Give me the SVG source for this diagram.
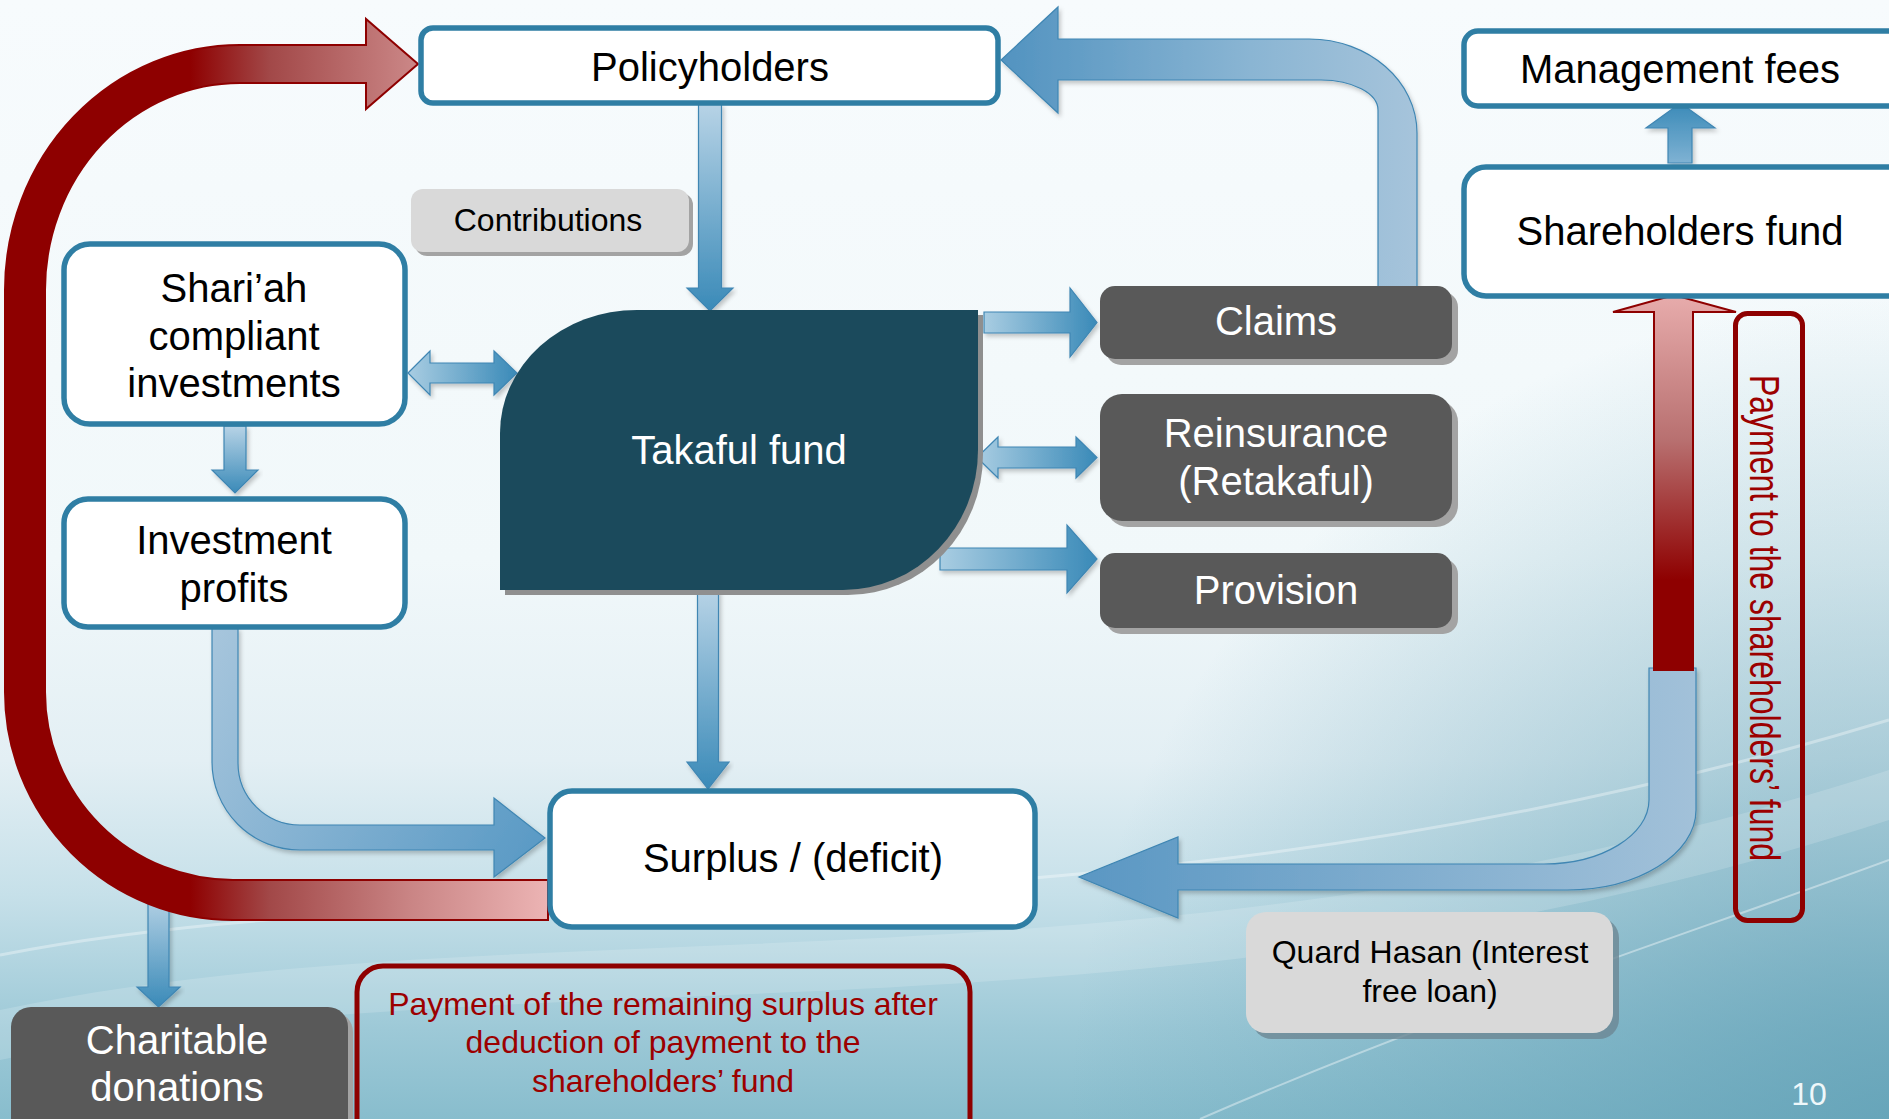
<svg xmlns="http://www.w3.org/2000/svg" width="1889" height="1119" viewBox="0 0 1889 1119">
  <defs>
    <linearGradient id="bg" x1="0" y1="0" x2="0" y2="1">
      <stop offset="0" stop-color="#f7fbfd"/>
      <stop offset="0.5" stop-color="#f1f8fa"/>
      <stop offset="0.68" stop-color="#e3eff4"/>
      <stop offset="0.8" stop-color="#c6e0e9"/>
      <stop offset="0.92" stop-color="#9dc9d7"/>
      <stop offset="1" stop-color="#88bdcd"/>
    </linearGradient>
    <radialGradient id="bgCorner" cx="1889" cy="1119" r="820" gradientUnits="userSpaceOnUse">
      <stop offset="0" stop-color="#5c9db3" stop-opacity="0.75"/>
      <stop offset="1" stop-color="#5c9db3" stop-opacity="0"/>
    </radialGradient>
    <linearGradient id="gDown" x1="0" y1="0" x2="0" y2="1">
      <stop offset="0" stop-color="#b7d3e6"/>
      <stop offset="1" stop-color="#3a8ab8"/>
    </linearGradient>
    <linearGradient id="gUp" x1="0" y1="1" x2="0" y2="0">
      <stop offset="0" stop-color="#7fb2d3"/>
      <stop offset="1" stop-color="#3a8ab8"/>
    </linearGradient>
    <linearGradient id="gRight" x1="0" y1="0" x2="1" y2="0">
      <stop offset="0" stop-color="#a9cde2"/>
      <stop offset="1" stop-color="#3a8ab8"/>
    </linearGradient>
    <linearGradient id="gBack" gradientUnits="userSpaceOnUse" x1="1001" y1="0" x2="1417" y2="0">
      <stop offset="0" stop-color="#5293c0"/>
      <stop offset="0.6" stop-color="#8ab5d3"/>
      <stop offset="1" stop-color="#a6c4db"/>
    </linearGradient>
    <linearGradient id="gInv" gradientUnits="userSpaceOnUse" x1="212" y1="640" x2="545" y2="838">
      <stop offset="0" stop-color="#a6c5dc"/>
      <stop offset="1" stop-color="#5a9ac5"/>
    </linearGradient>
    <linearGradient id="gLoan" gradientUnits="userSpaceOnUse" x1="1079" y1="0" x2="1696" y2="0">
      <stop offset="0" stop-color="#5a97c3"/>
      <stop offset="1" stop-color="#a2c1d9"/>
    </linearGradient>
    <linearGradient id="gRed" gradientUnits="userSpaceOnUse" x1="150" y1="0" x2="548" y2="0">
      <stop offset="0" stop-color="#8e0000"/>
      <stop offset="0.1" stop-color="#8e0000"/>
      <stop offset="0.3" stop-color="#a24848"/>
      <stop offset="0.65" stop-color="#c98484"/>
      <stop offset="1" stop-color="#ecb4b4"/>
    </linearGradient>
    <linearGradient id="gRedUp" gradientUnits="userSpaceOnUse" x1="0" y1="300" x2="0" y2="580">
      <stop offset="0" stop-color="#e6aaaa"/>
      <stop offset="0.5" stop-color="#b87070"/>
      <stop offset="1" stop-color="#8e0000"/>
    </linearGradient>
    <filter id="soft" x="-10%" y="-10%" width="120%" height="120%">
      <feDropShadow dx="2" dy="3" stdDeviation="2" flood-color="#000" flood-opacity="0.22"/>
    </filter>
    <style>
      .box { fill: #ffffff; stroke: #2f7ea4; stroke-width: 5.5; }
      .dark { fill: #595959; }
      .light { fill: #d9d9d9; }
      .shd { fill: #a3a3a3; }
      .barrow { stroke: #3f86b3; stroke-width: 1.2; stroke-linejoin: miter; filter: url(#soft); }
      .rarrow { stroke: #8e0000; stroke-width: 2; stroke-linejoin: miter; }
      text { font-family: "Liberation Sans", Arial, sans-serif; text-anchor: middle; }
      .t40 { font-size: 40px; fill: #000; }
      .w40 { font-size: 40px; fill: #ffffff; }
      .t32 { font-size: 32px; fill: #000; }
      .r32 { font-size: 32px; fill: #9c0000; }
    </style>
  </defs>

  <!-- slide background -->
  <rect width="1889" height="1119" fill="url(#bg)"/>
  <rect width="1889" height="1119" fill="url(#bgCorner)"/>
  <path d="M0,1010 C520,900 1150,1010 1889,770 L1889,820 C1150,1060 520,950 0,1060 Z" fill="#ffffff" opacity="0.16"/>
  <path d="M0,955 C480,860 1100,960 1889,720" fill="none" stroke="#ffffff" stroke-width="3" opacity="0.35"/>
  <path d="M1200,1119 C1450,1010 1700,930 1889,860" fill="none" stroke="#ffffff" stroke-width="2" opacity="0.4"/>

  <!-- connectors -->
  <g id="connectors">
    <!-- Policyholders -> Takaful fund -->
    <path class="barrow" fill="url(#gDown)" d="M698.5,104 H721.5 V288 H733 L710,311 L687,288 H698.5 Z"/>
    <!-- Shari'ah investments <-> Takaful fund -->
    <path class="barrow" fill="url(#gRight)" d="M408,373 L430,351 V363 H494 V351 L517,373 L494,395 V383 H430 V395 Z"/>
    <!-- Shari'ah investments -> Investment profits -->
    <path class="barrow" fill="url(#gDown)" d="M224,426 H246 V470 H258 L235,493 L212,470 H224 Z"/>
    <!-- Takaful fund -> Claims -->
    <path class="barrow" fill="url(#gRight)" d="M984,312 H1070 V288 L1097,322.5 L1070,357 V333 H984 Z"/>
    <!-- Takaful fund <-> Reinsurance -->
    <path class="barrow" fill="url(#gRight)" d="M977,457.5 L998,437 V447 H1076 V437 L1097,457.5 L1076,478 V468 H998 V478 Z"/>
    <!-- Takaful fund -> Provision -->
    <path class="barrow" fill="url(#gRight)" d="M940,548 H1067 V525 L1097,559 L1067,593 V570 H940 Z"/>
    <!-- Takaful fund -> Surplus -->
    <path class="barrow" fill="url(#gDown)" d="M697.5,590 H718.5 V762 H729 L708,789 L687,762 H697.5 Z"/>
    <!-- Claims -> Policyholders -->
    <path class="barrow" fill="url(#gBack)" d="M1378,292 V110 C1378,93.4 1352.5,80 1321,80 H1058 V113 L1001,60 L1058,7 V39 H1309 C1368.6,39 1417,81.1 1417,133 V292 Z"/>
    <!-- Investment profits -> Surplus -->
    <path class="barrow" fill="url(#gInv)" d="M212,628 V762 A88,88 0 0 0 300,850 H494 V877 L545,838 L494,798 V825 H300 A62,62 0 0 1 238,763 V628 Z"/>
    <!-- Shareholders fund -> Management fees -->
    <path class="barrow" fill="url(#gUp)" d="M1668,163 V128 H1646 L1680.5,103 L1715,128 H1692 V163 Z"/>
    <!-- Surplus -> Charitable donations -->
    <path class="barrow" fill="url(#gDown)" d="M148,895 H169 V987 H180 L158.5,1007 L137,987 H148 Z"/>
    <!-- Quard Hasan loan from shareholders' fund to Surplus -->
    <path class="barrow" fill="url(#gLoan)" d="M1649,668 H1696 V810 C1696,854 1638,890 1567,890 H1178 V918 L1079,877 L1178,837 V864 H1544 C1602,864 1649,835 1649,800 Z"/>
    <!-- Payment to the shareholders' fund -->
    <path class="rarrow" fill="url(#gRedUp)" d="M1654,670 V312 H1613 L1674,295 L1736,312 H1693 V670 Z"/>
    <!-- Remaining surplus back to Policyholders -->
    <path class="rarrow" fill="url(#gRed)" d="M548,920 H233 A228,228 0 0 1 5,692 V290 A235,245 0 0 1 240,45 H366 V19 L418,64 L366,109 V83 H240 A195,207 0 0 0 45,290 V692 A188,188 0 0 0 233,880 H548 Z"/>
  </g>

  <!-- nodes -->
  <g id="policyholders">
    <rect class="box" x="421" y="28" width="577" height="75" rx="12"/>
    <text class="t40" x="710" y="81">Policyholders</text>
  </g>

  <g id="management-fees">
    <rect class="box" x="1464" y="31" width="460" height="75" rx="14"/>
    <text class="t40" x="1680" y="83">Management fees</text>
  </g>

  <g id="shareholders-fund">
    <rect class="box" x="1464" y="167" width="460" height="129" rx="22"/>
    <text class="t40" x="1680" y="245">Shareholders fund</text>
  </g>

  <g id="contributions">
    <rect class="shd" x="415" y="193" width="278" height="63" rx="12"/>
    <rect class="light" x="411" y="189" width="278" height="63" rx="12"/>
    <text class="t32" x="548" y="231">Contributions</text>
  </g>

  <g id="shariah-investments">
    <rect class="box" x="64" y="244" width="341" height="180" rx="26"/>
    <text class="t40" x="234" y="302">Shari’ah</text>
    <text class="t40" x="234" y="350">compliant</text>
    <text class="t40" x="234" y="397">investments</text>
  </g>

  <g id="investment-profits">
    <rect class="box" x="64" y="499" width="341" height="128" rx="24"/>
    <text class="t40" x="234" y="554">Investment</text>
    <text class="t40" x="234" y="602">profits</text>
  </g>

  <g id="takaful-fund">
    <path fill="#8f8f8f" transform="translate(5,5)" d="M637,310 H978 V450 A135,140 0 0 1 843,590 H500 V433 A137,123 0 0 1 637,310 Z"/>
    <path fill="#1b4a5c" d="M637,310 H978 V450 A135,140 0 0 1 843,590 H500 V433 A137,123 0 0 1 637,310 Z"/>
    <text class="w40" x="739" y="464">Takaful fund</text>
  </g>

  <g id="claims">
    <rect class="shd" x="1106" y="292" width="352" height="73" rx="15"/>
    <rect class="dark" x="1100" y="286" width="352" height="73" rx="15"/>
    <text class="w40" x="1276" y="335">Claims</text>
  </g>

  <g id="reinsurance">
    <rect class="shd" x="1106" y="400" width="352" height="127" rx="22"/>
    <rect class="dark" x="1100" y="394" width="352" height="127" rx="22"/>
    <text class="w40" x="1276" y="447">Reinsurance</text>
    <text class="w40" x="1276" y="495">(Retakaful)</text>
  </g>

  <g id="provision">
    <rect class="shd" x="1106" y="559" width="352" height="75" rx="15"/>
    <rect class="dark" x="1100" y="553" width="352" height="75" rx="15"/>
    <text class="w40" x="1276" y="604">Provision</text>
  </g>

  <g id="surplus">
    <rect class="box" x="550" y="791" width="485" height="136" rx="22"/>
    <text class="t40" x="793" y="872">Surplus / (deficit)</text>
  </g>

  <g id="charitable-donations">
    <rect class="shd" x="16" y="1012" width="337" height="140" rx="20"/>
    <rect class="dark" x="11" y="1007" width="337" height="140" rx="20"/>
    <text class="w40" x="177" y="1054">Charitable</text>
    <text class="w40" x="177" y="1101">donations</text>
  </g>

  <g id="remaining-surplus-note">
    <rect x="357" y="966" width="613" height="180" rx="26" fill="none" stroke="#8e0000" stroke-width="5"/>
    <text class="r32" x="663" y="1015">Payment of the remaining surplus after</text>
    <text class="r32" x="663" y="1053">deduction of payment to the</text>
    <text class="r32" x="663" y="1092">shareholders’ fund</text>
  </g>

  <g id="quard-hasan">
    <rect x="1252" y="918" width="367" height="121" rx="20" fill="#6d8794" opacity="0.8"/>
    <rect class="light" x="1246" y="912" width="367" height="121" rx="20"/>
    <text class="t32" x="1430" y="963">Quard Hasan (Interest</text>
    <text class="t32" x="1430" y="1002">free loan)</text>
  </g>

  <g id="shareholders-payment-note">
    <rect x="1735.5" y="313.5" width="67" height="607" rx="12" fill="none" stroke="#8e0000" stroke-width="5"/>
    <text class="r32" font-size="32.5" transform="translate(1750,618) rotate(90) scale(1,1.33)">Payment to the shareholders’ fund</text>
  </g>

  <text x="1809" y="1105" font-size="32" fill="#eef7fa">10</text>
</svg>
